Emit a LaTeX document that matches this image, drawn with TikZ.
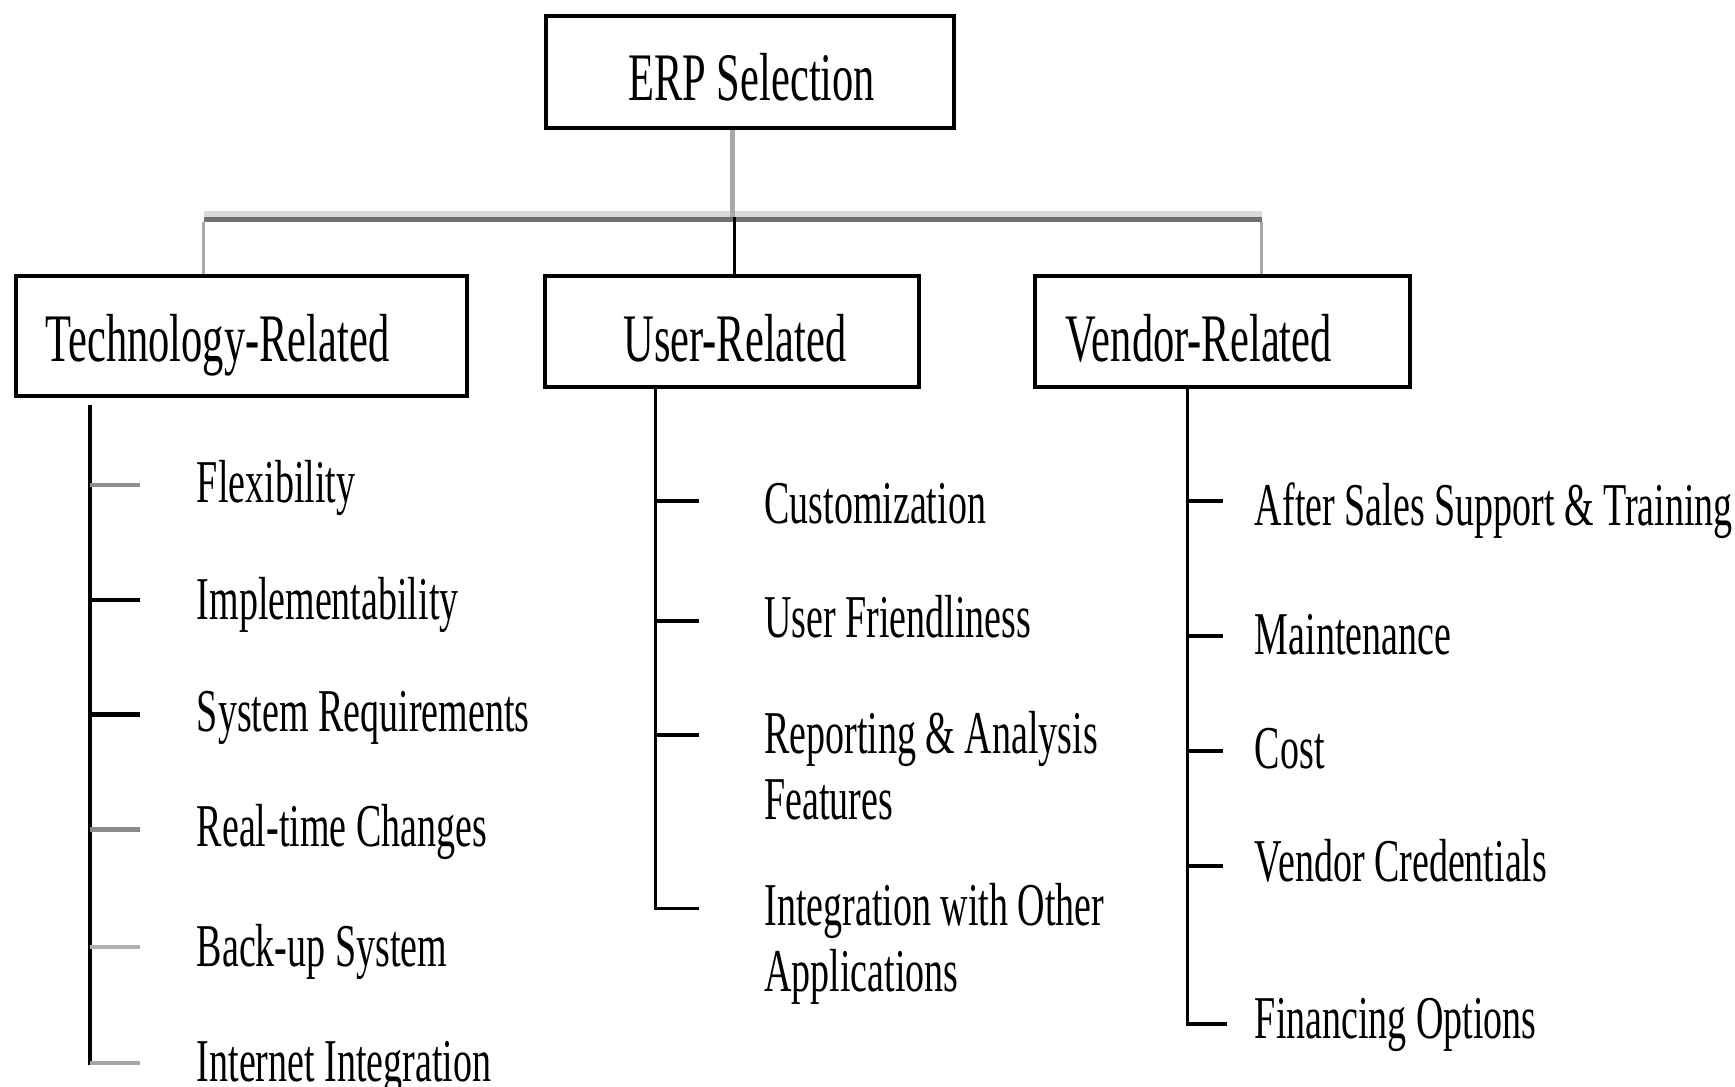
\documentclass[tikz,border=0pt]{standalone}
\usepackage{fontspec}
\newfontfamily\condserif[FakeStretch=0.625]{Liberation Serif}
\usetikzlibrary{fit}
\definecolor{stemgray}{HTML}{A8A8A8}
\definecolor{buslight}{HTML}{D9D9D9}
\definecolor{busdark}{HTML}{707070}
\definecolor{tgA}{HTML}{8F8F8F}
\definecolor{tgB}{HTML}{8A8A8A}
\definecolor{tgC}{HTML}{B0B0B0}
\definecolor{tgD}{HTML}{A6A6A6}
\tikzset{
  box/.style={draw=black, line width=2pt, inner sep=0pt},
  hdr/.style={font=\condserif\fontsize{34pt}{40pt}\selectfont, inner sep=0pt, anchor=base west},
  itm/.style={font=\condserif\fontsize{30.4pt}{33pt}\selectfont, inner sep=0pt, anchor=base west, align=left},
  spine/.style={draw=black, line width=1.8pt},
  tick/.style={line width=2.1pt},
  graystem/.style={draw=stemgray, line width=1.8pt},
}
\begin{document}
\begin{tikzpicture}[x=0.5pt,y=-0.5pt]
\useasboundingbox (0,0) rectangle (1735,1087);
\fill[white] (0,0) rectangle (1735,1087);

% boxes
\node[box, fit={(546,15.5) (953.5,127.5)}] (erp) {};
\node[box, fit={(16,276) (467,396)}] (tech) {};
\node[box, fit={(545,276) (919,386.5)}] (user) {};
\node[box, fit={(1035,276) (1410,386.5)}] (vend) {};

\node[hdr] (erpt) at (628,100.7) {ERP Selection};
\node[hdr] (techt) at (45,361.7) {Technology-Related};
\node[hdr] (usert) at (623,361.7) {User-Related};
\node[hdr] (vendt) at (1065.5,361.7) {Vendor-Related};

% bus
\coordinate (busL) at (203.5,216.7);
\coordinate (busM) at (732.5,216.7);
\coordinate (busU) at (734.3,216.7);
\coordinate (busR) at (1261.5,216.7);
\draw[buslight, line width=2.85pt] ([yshift=1.4pt]busL) -- ([yshift=1.4pt]busR);
\draw[busdark, line width=2.65pt] ([yshift=-1.35pt]busL) -- ([yshift=-1.35pt]busR);
\draw[stemgray, line width=2.6pt] (busM |- erp.south) -- (busM);
\draw[black, line width=1.7pt] (busU) -- (busU |- user.north);
\draw[graystem] ([yshift=-2.6pt]busL) -- (busL |- tech.north);
\draw[graystem] ([yshift=-2.6pt]busR) -- (busR |- vend.north);

% technology list
\coordinate (tS) at (90,404.8);
\coordinate (tE) at (90,1065);
\coordinate (tk1) at (140,484.6);
\coordinate (tk2) at (140,600);
\coordinate (tk3) at (140,714.5);
\coordinate (tk4) at (140,829.5);
\coordinate (tk5) at (140,946.7);
\coordinate (tk6) at (140,1063);
\draw[spine] (tS) -- (tE);
\draw[tick, tgA] (tS |- tk1) -- (tk1);
\draw[tick, black] (tS |- tk2) -- (tk2);
\draw[tick, black] (tS |- tk3) -- (tk3);
\draw[tick, tgB] (tS |- tk4) -- (tk4);
\draw[tick, tgC] (tS |- tk5) -- (tk5);
\draw[tick, tgD] (tS |- tk6) -- (tk6);
\node[itm] (t1) at (196.5,502.6) {Flexibility};
\node[itm] (t2) at (196.5,619) {Implementability};
\node[itm] (t3) at (196.5,731.7) {System Requirements};
\node[itm] (t4) at (196.5,846.6) {Real-time Changes};
\node[itm] (t5) at (196.5,966) {Back-up System};
\node[itm] (t6) at (196.5,1081) {Internet Integration};

% user list
\coordinate (uS) at (655.5,386.8);
\coordinate (uk1) at (699,500.8);
\coordinate (uk2) at (699,621.2);
\coordinate (uk3) at (699,735.3);
\coordinate (uk4) at (699,908.4);
\draw[spine] (uS) |- (uk4);
\draw[tick] (uS |- uk1) -- (uk1);
\draw[tick] (uS |- uk2) -- (uk2);
\draw[tick] (uS |- uk3) -- (uk3);
\node[itm] (u1) at (764,523.4) {Customization};
\node[itm] (u2) at (764,637) {User Friendliness};
\node[itm] (u3) at (764,819.6) {Reporting \& Analysis\\Features};
\node[itm] (u4) at (764,991.8) {Integration with Other\\Applications};

% vendor list
\coordinate (vS) at (1187.3,386.8);
\coordinate (vk1) at (1223,500.8);
\coordinate (vk2) at (1223,636.1);
\coordinate (vk3) at (1223,750.6);
\coordinate (vk4) at (1223,866);
\coordinate (vk5) at (1227,1023.8);
\draw[spine] (vS) |- (vk5);
\draw[tick] (vS |- vk1) -- (vk1);
\draw[tick] (vS |- vk2) -- (vk2);
\draw[tick] (vS |- vk3) -- (vk3);
\draw[tick] (vS |- vk4) -- (vk4);
\node[itm] (v1) at (1254.5,525) {After Sales Support \& Training};
\node[itm] (v2) at (1254.5,654) {Maintenance};
\node[itm] (v3) at (1254.5,768.6) {Cost};
\node[itm] (v4) at (1254.5,881.8) {Vendor Credentials};
\node[itm] (v5) at (1254.5,1038) {Financing Options};
\end{tikzpicture}
\end{document}
